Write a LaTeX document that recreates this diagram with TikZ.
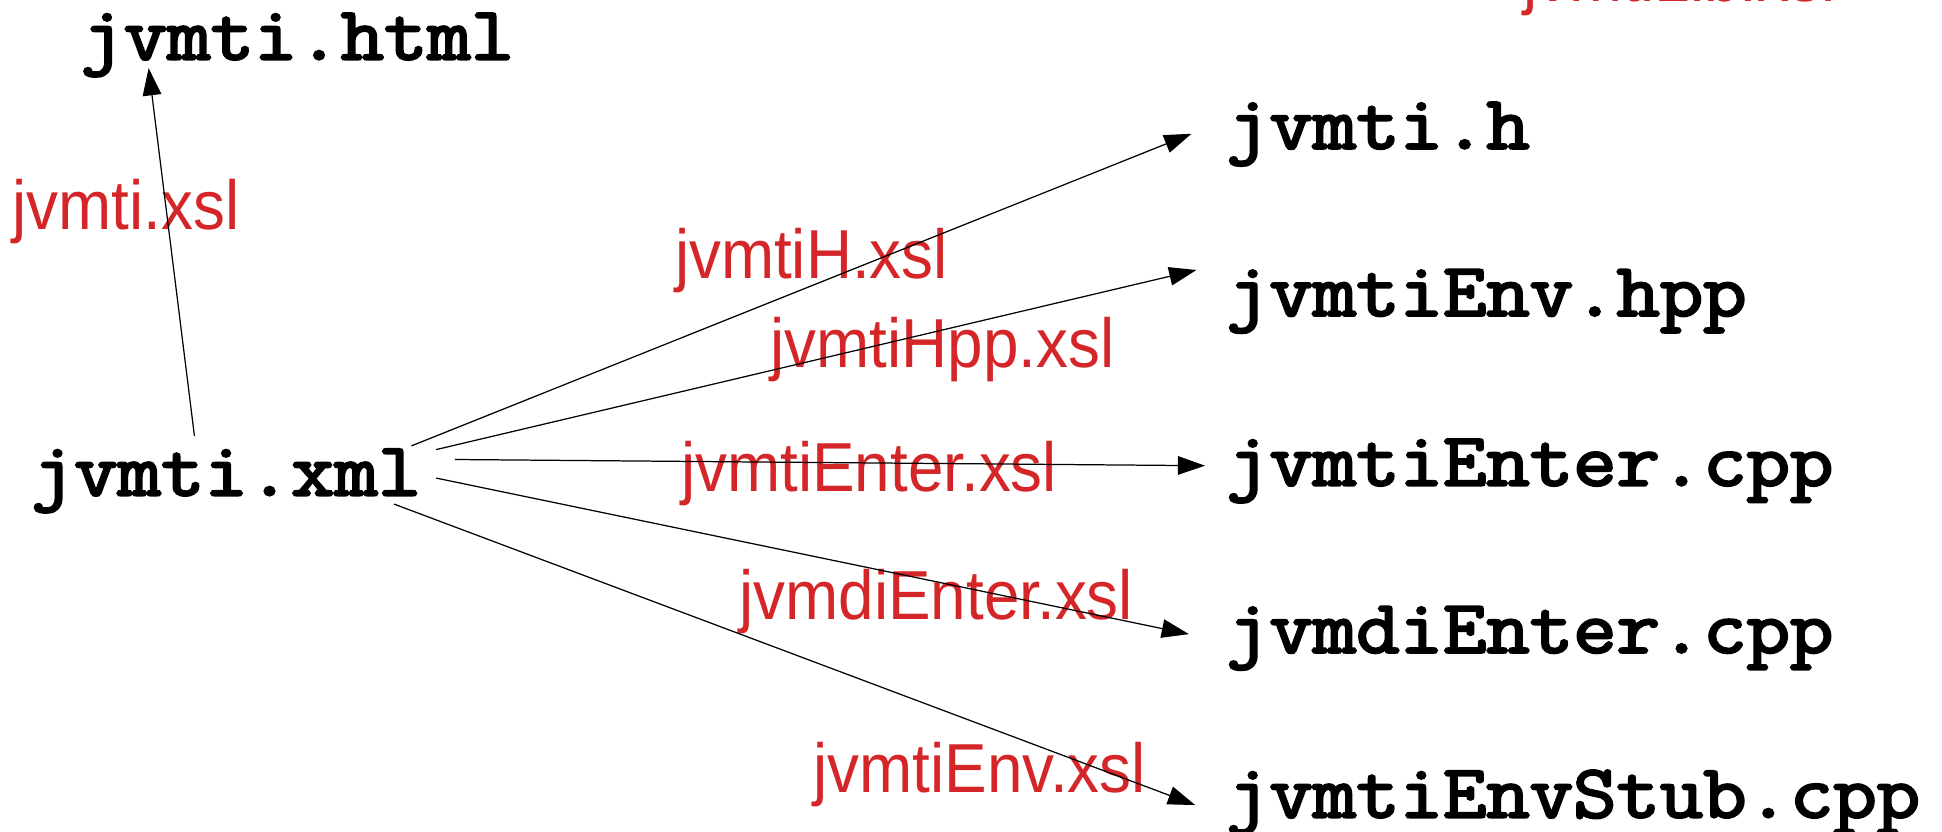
\documentclass[tikz,border=0pt]{standalone}
\usepackage{fontspec}
\usetikzlibrary{arrows.meta,calc}
\newfontfamily\lblfont{Liberation Sans}[FakeStretch=0.92]
\newfontfamily\codefont{Latin Modern Mono}[FakeBold=3]
\newcommand\fname[1]{\scalebox{1}[0.9]{#1}}
\definecolor{jred}{RGB}{212,38,40}
\begin{document}
\begin{tikzpicture}[x=0.5pt,y=-0.5pt,
  code/.style={font=\codefont\fontsize{34}{34}\selectfont, anchor=base west, inner sep=0pt, outer sep=0pt},
  lbl/.style={font=\lblfont\fontsize{28}{28}\selectfont, text=jred, anchor=base west, inner sep=0pt, outer sep=0pt},
  arr/.style={line width=0.5pt, -{Triangle[length=11pt,width=7.5pt]}}]
\useasboundingbox (0,0) rectangle (1568,671);
% file nodes
\node[code] (html)  at (65,48)  {\fname{jvmti.html}};
\node[code] (xml)   at (25,400) {\fname{jvmti.xml}};
\node[code] (h)     at (990,120) {\fname{jvmti.h}};
\node[code] (hpp)   at (990,255) {\fname{jvmtiEnv.hpp}};
\node[code] (enter) at (990,392) {\fname{jvmtiEnter.cpp}};
\node[code] (jvmdi) at (990,527) {\fname{jvmdiEnter.cpp}};
\node[code] (stub)  at (990,660) {\fname{jvmtiEnvStub.cpp}};
% labels
\node[lbl] (l0) at (10,185)  {jvmti.xsl};
\node[lbl] (l1) at (545,225) {jvmtiH.xsl};
\node[lbl] (l2) at (622,297) {jvmtiHpp.xsl};
\node[lbl] (l3) at (550,397) {jvmtiEnter.xsl};
\node[lbl] (l4) at (597,500) {jvmdiEnter.xsl};
\node[lbl] (l5) at (657,640) {jvmtiEnv.xsl};
\node[lbl] (l6) at (1230,1) {jvmtiLib.xsl};
% connectors
\draw[arr] ($(xml.base west)+(132,-48)$) -- ($(html.base west)+(55,7)$);
\draw[arr] ($(xml.base east)+(-8,-40)$) -- ($(h.base west)+(-28,-12)$);
\draw[arr] ($(xml.base east)+(12,-37)$) -- ($(hpp.base west)+(-24,-37)$);
\draw[arr] ($(xml.base east)+(27,-29)$) -- ($(enter.base west)+(-17,-16)$);
\draw[arr] ($(xml.base east)+(12,-14)$) -- ($(jvmdi.base west)+(-30,-15)$);
\draw[arr] ($(xml.base east)+(-22,7)$) -- ($(stub.base west)+(-25,-10)$);
\end{tikzpicture}
\end{document}
